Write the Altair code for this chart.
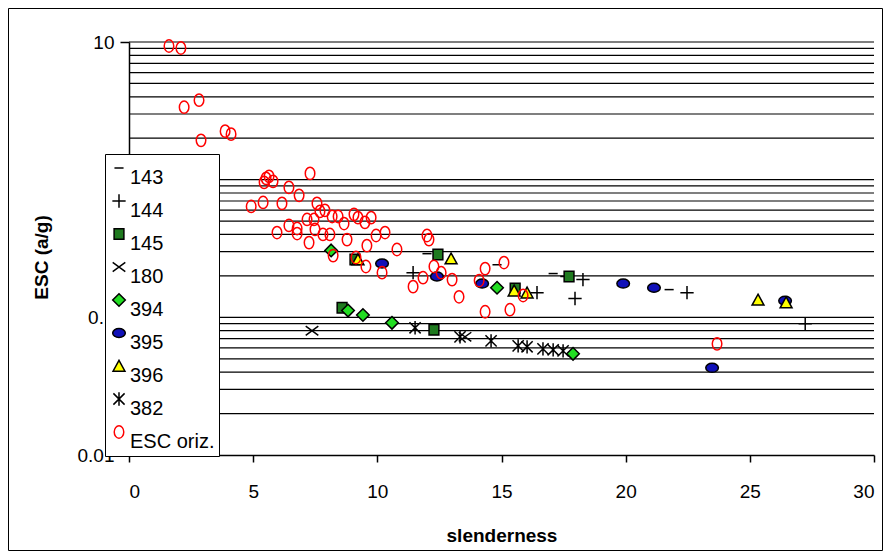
import altair as alt
import pandas as pd

series_order = ["143", "144", "145", "180", "394", "395", "396", "382", "ESC oriz."]

s143_x = [10.11, 12.00, 14.82, 17.08, 17.55, 21.75]
s143_y = [0.246, 0.290, 0.241, 0.208, 0.198, 0.159]

s144_x = [11.44, 16.43, 18.28, 17.96, 22.47, 27.23]
s144_y = [0.211, 0.151, 0.188, 0.137, 0.151, 0.0898]

s145_x = [8.58, 12.44, 12.28, 15.55, 17.72, 9.10]
s145_y = [0.1175, 0.286, 0.0812, 0.162, 0.198, 0.263]

s180_x = [7.37, 13.53]
s180_y = [0.0799, 0.0722]

s394_x = [8.14, 8.82, 9.42, 10.59, 14.82, 17.88]
s394_y = [0.306, 0.112, 0.104, 0.0913, 0.164, 0.0543]

s395_x = [10.19, 12.40, 14.22, 19.90, 21.14, 26.42, 23.48]
s395_y = [0.246, 0.198, 0.176, 0.176, 0.164, 0.132, 0.043]

s396_x = [9.22, 12.97, 15.51, 16.03, 25.33, 26.46]
s396_y = [0.263, 0.267, 0.156, 0.151, 0.134, 0.128]

s382_x = [11.52, 13.33, 14.58, 15.67, 16.03, 16.67, 17.08, 17.48]
s382_y = [0.084, 0.0722, 0.0675, 0.0621, 0.0611, 0.059, 0.0581, 0.0571]

esc_x = [1.61, 2.09, 2.22, 2.82, 2.90, 3.87, 4.11,
         5.52, 5.64, 5.80, 5.44, 7.29, 6.44, 6.85,
         4.92, 5.40, 6.16, 7.57, 7.69, 7.89, 8.18, 8.42, 8.66,
         7.17, 7.45, 6.44, 6.77, 6.77, 5.96, 7.49, 7.81, 8.09,
         7.25, 8.78, 8.22,
         9.06, 9.22, 9.75, 9.50,
         9.95, 10.31, 9.58, 12.00, 12.08, 10.79,
         9.14, 9.54, 10.19,
         12.28, 12.57, 11.84, 11.44, 13.01, 13.29,
         14.34, 15.10, 14.10, 15.87, 14.34, 15.34,
         23.68]
esc_y = [9.35, 9.04, 3.36, 3.78, 1.93, 2.25, 2.14,
         1.022, 1.057, 0.972, 0.956, 1.11, 0.879, 0.769,
         0.639, 0.683, 0.672, 0.672, 0.588, 0.598, 0.540, 0.540, 0.480,
         0.514, 0.514, 0.465, 0.442, 0.406, 0.413, 0.435, 0.400, 0.400,
         0.349, 0.367, 0.281,
         0.56, 0.53, 0.53, 0.49,
         0.393, 0.413, 0.332, 0.393, 0.367, 0.311,
         0.272, 0.234, 0.211,
         0.234, 0.211, 0.194, 0.167, 0.188, 0.141,
         0.226, 0.250, 0.185, 0.144, 0.1098, 0.1136,
         0.0642]

grid_values = [0.02, 0.03, 0.04, 0.05, 0.06, 0.07, 0.08, 0.09,
               0.1, 0.2, 0.3, 0.4, 0.5, 0.6, 0.7, 0.8, 0.9,
               1, 2, 3, 4, 5, 6, 7, 8, 9, 10]
x_ticks = [0, 5, 10, 15, 20, 25, 30]
y_ticks = [0.01, 0.1, 1, 10]

shapes = [
    "M-0.65,0L0.65,0",
    "M-0.95,0L0.95,0M0,-0.95L0,0.95",
    "M-0.7,-0.75L0.7,-0.75L0.7,0.75L-0.7,0.75Z",
    "M-0.9,-0.65L0.9,0.65M-0.9,0.65L0.9,-0.65",
    "M0,-0.9L0.9,0L0,0.9L-0.9,0Z",
    "M-0.9,0A0.9,0.65 0 1,0 0.9,0A0.9,0.65 0 1,0 -0.9,0Z",
    "M0,-0.8L0.85,0.75L-0.85,0.75Z",
    "M-0.8,-0.8L0.8,0.8M-0.8,0.8L0.8,-0.8M0,-0.95L0,0.95",
    "M-0.68,0A0.68,0.88 0 1,0 0.68,0A0.68,0.88 0 1,0 -0.68,0Z",
]
fills = ["transparent", "transparent", "#1f7a1f", "transparent", "#22dd22",
         "#1010b8", "#ffff00", "transparent", "transparent"]
strokes = ["black", "black", "black", "black", "black", "black", "black", "black", "#ff0000"]

series_data = [
    ("143", s143_x, s143_y), ("144", s144_x, s144_y), ("145", s145_x, s145_y),
    ("180", s180_x, s180_y), ("394", s394_x, s394_y), ("395", s395_x, s395_y),
    ("396", s396_x, s396_y), ("382", s382_x, s382_y), ("ESC oriz.", esc_x, esc_y),
]
rows = []
for name, xs, ys in series_data:
    for xv, yv in zip(xs, ys):
        rows.append({"series": name, "x": xv, "y": yv})
df = pd.DataFrame(rows)
grid_df = pd.DataFrame({"y": grid_values})

FONT = "Liberation Sans"
yscale = alt.Scale(type="log", domain=[0.01, 10], nice=False)
xscale = alt.Scale(domain=[0, 30], nice=False)

legend = alt.Legend(
    title=None, orient="none", legendX=-24, legendY=112,
    fillColor="white", strokeColor="black", padding=4,
    labelFont=FONT, labelFontSize=20, labelBaseline="top", labelColor="black",
    symbolSize=196, symbolStrokeWidth=1.5, rowPadding=3, labelOffset=1,
    labelLimit=200, clipHeight=20,
)

grid = alt.Chart(grid_df).mark_rule(color="black", strokeWidth=1.2).encode(
    y=alt.Y("y:Q", scale=yscale)
)

points = alt.Chart(df).mark_point(size=196, opacity=1, strokeWidth=1.5, fillOpacity=1).encode(
    x=alt.X("x:Q", scale=xscale,
            axis=alt.Axis(values=x_ticks, title="slenderness", grid=False,
                          tickSize=7, labelPadding=20, titlePadding=25)),
    y=alt.Y("y:Q", scale=yscale,
            axis=alt.Axis(values=y_ticks, format="~g", title="ESC (a/g)", grid=False,
                          tickSize=9, labelPadding=6, titlePadding=26, titleY=215)),
    shape=alt.Shape("series:N", scale=alt.Scale(domain=series_order, range=shapes), legend=legend),
    fill=alt.Fill("series:N", scale=alt.Scale(domain=series_order, range=fills), legend=legend),
    stroke=alt.Stroke("series:N", scale=alt.Scale(domain=series_order, range=strokes), legend=legend),
)

frame = alt.Chart(alt.Data(values=[{"a": 1}])).mark_rect(
    filled=False, stroke="black", strokeWidth=1
).encode(
    x=alt.value(-120.5), x2=alt.value(753.5), y=alt.value(-33.5), y2=alt.value(508.5)
)

chart = alt.layer(grid, points, frame).properties(
    width=745, height=413,
    autosize=alt.AutoSizeParams(type="none"),
    padding={"left": 121, "top": 34, "right": 9, "bottom": 96},
    background="white",
).configure_view(stroke=None).configure_axis(
    domainColor="black", domainWidth=1.5, tickColor="black", tickWidth=1.5,
    labelColor="black", labelFont=FONT, labelFontSize=19,
    titleColor="black", titleFont=FONT, titleFontSize=19, titleFontWeight="bold",
)

chart.save("out.html", embed_options={"renderer": "svg", "actions": False})
